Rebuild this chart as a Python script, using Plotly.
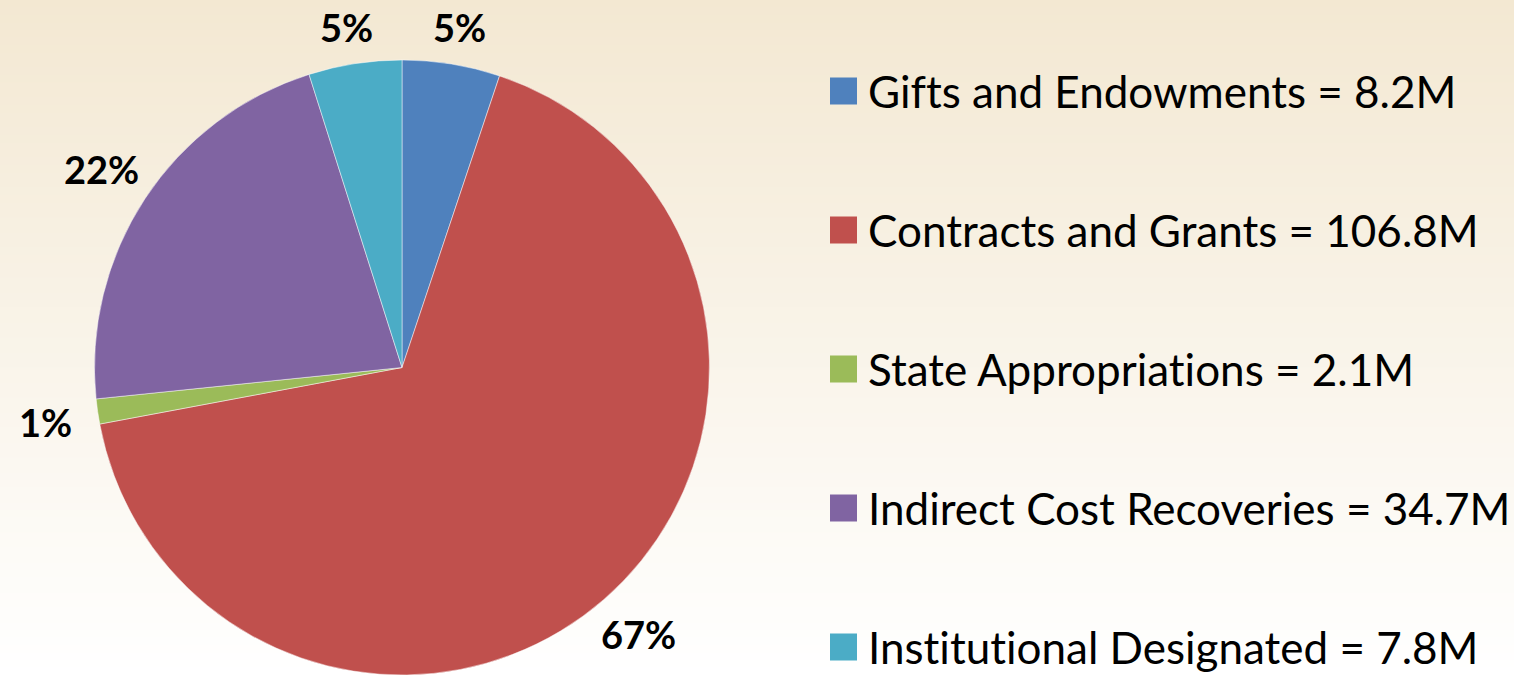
import math
import plotly.graph_objects as go

categories = ["Gifts and Endowments", "Contracts and Grants", "State Appropriations",
              "Indirect Cost Recoveries", "Institutional Designated"]
values_m = [8.2, 106.8, 2.1, 34.7, 7.8]
value_labels = ["8.2M", "106.8M", "2.1M", "34.7M", "7.8M"]
colors = ["#4F81BD", "#C0504D", "#9BBB59", "#8064A2", "#4BACC6"]

W, H = 1514, 675

fig = go.Figure()

# pie geometry (pixels)
cx, cy, r = 402, 367.5, 307.5
fig.add_trace(go.Pie(
    labels=categories,
    values=values_m,
    sort=False,
    direction="clockwise",
    rotation=0,
    marker=dict(colors=colors, line=dict(color="rgba(255,255,255,0.6)", width=0.8)),
    textinfo="none",
    domain=dict(x=[(cx - r) / W, (cx + r) / W], y=[0, 2 * r / H]),
    showlegend=False,
    hoverinfo="label+value+percent",
))

shapes = []
annotations = []

# vertical gradient background
n = 90
top = (243, 232, 210)
bot = (255, 255, 255)
for i in range(n):
    t = (i + 0.5) / n
    c = tuple(round(top[k] + (bot[k] - top[k]) * t) for k in range(3))
    shapes.append(dict(type="rect", xref="paper", yref="paper", layer="below",
                       x0=0, x1=1, y0=1 - (i + 1.05) / n, y1=1 - i / n,
                       fillcolor="rgb(%d,%d,%d)" % c, line=dict(width=0)))

# outside percentage labels, placed from each slice's mid angle
total = sum(values_m)
cum = 0.0
for v in values_m:
    mid = (cum + v / 2) / total * 2 * math.pi
    cum += v
    sx, sy = math.sin(mid), -math.cos(mid)  # sy positive = downward in pixels
    rx_lab = 360
    ry_lab = 344 + 40 * (1 - abs(sy))
    px, py = cx + rx_lab * sx, cy + ry_lab * sy
    annotations.append(dict(x=px / W, y=1 - py / H, xref="paper", yref="paper",
                            xanchor="center", yanchor="middle", showarrow=False,
                            text=f"{round(v / total * 100)}%",
                            font=dict(family="Lato", size=38, color="black", weight="bold")))

# legend
sq = 27
leg_x = 830
for i, (cat, vl, col) in enumerate(zip(categories, value_labels, colors)):
    yc = 91 + 139 * i
    shapes.append(dict(type="rect", xref="paper", yref="paper",
                       x0=leg_x / W, x1=(leg_x + sq) / W,
                       y0=1 - (yc + sq / 2) / H, y1=1 - (yc - sq / 2) / H,
                       fillcolor=col, line=dict(width=0)))
    annotations.append(dict(x=866 / W, y=1 - yc / H, xref="paper", yref="paper",
                            xanchor="left", yanchor="middle", showarrow=False,
                            text=f'<span style="font-variant-ligatures:none">{cat} = {vl}</span>',
                            font=dict(family="Lato", size=44, color="black")))

fig.update_layout(
    width=W, height=H,
    margin=dict(l=0, r=0, t=0, b=0),
    paper_bgcolor="white",
    shapes=shapes,
    annotations=annotations,
)

fig.write_html("out.html", config={"displayModeBar": False},
               post_script="document.body.style.margin='0';")
